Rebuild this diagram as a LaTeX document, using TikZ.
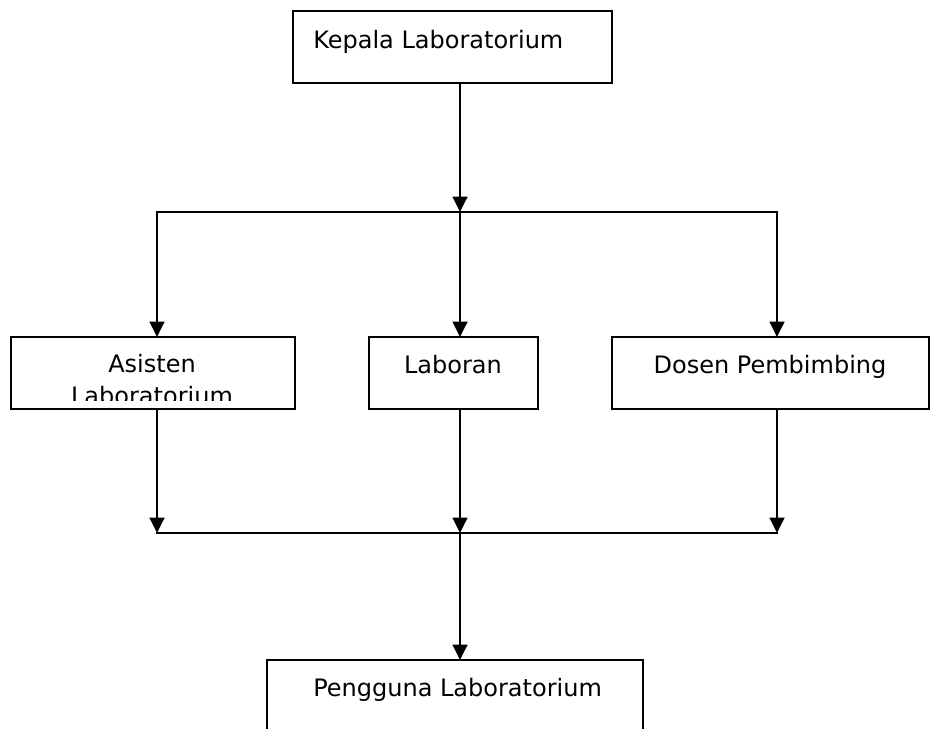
\documentclass[tikz,border=0pt]{standalone}
\usepackage{fontspec}
\setmainfont{DejaVu Sans}
\usetikzlibrary{arrows.meta,calc}
\begin{document}
\begin{tikzpicture}[x=0.75pt,y=-0.75pt,
  box/.style={draw,line width=1.8pt,inner sep=0pt,outer sep=0pt,minimum height=72*0.75pt},
  lbl/.style={inner sep=0pt,font=\fontsize{18pt}{24pt}\selectfont},
  conn/.style={line width=1.8pt,line cap=rect},
  arr/.style={line width=1.8pt,-{Triangle[width=11pt,length=11.5pt]}}]
\useasboundingbox (0,0) rectangle (931,728);
\clip (0,0) rectangle (931,728);
% boxes
\node[box,minimum width=319*0.75pt] (kep) at (452.5,47) {};
\node[box,minimum width=284*0.75pt] (asis) at (153,373) {};
\node[box,minimum width=169*0.75pt] (lab) at (453.5,373) {};
\node[box,minimum width=317*0.75pt] (dos) at (770.5,373) {};
\node[box,minimum width=376*0.75pt] (pen) at (455,696) {};
% labels
\node[lbl,anchor=base west] (tkep) at (313,48) {Kepala Laboratorium};
\node[lbl,anchor=base] (tasis) at (152,372) {Asisten};
\begin{scope}
\clip (11,337) rectangle (295,400);
\node[lbl,anchor=base] (tasis2) at (152,404) {Laboratorium};
\end{scope}
\node[lbl,anchor=base] (tlab) at (453,373) {Laboran};
\node[lbl,anchor=base] (tdos) at (770,373) {Dosen Pembimbing};
\node[lbl,anchor=base west] (tpen) at (313,696) {Pengguna Laboratorium};
% junctions
\coordinate (j1) at (460,212);
\coordinate (hl) at (157,212);
\coordinate (hr) at (777,212);
\coordinate (b1) at (157,533);
\coordinate (b2) at (460,533);
\coordinate (b3) at (777,533);
% connectors
\draw[arr] (kep.south -| j1) -- (j1);
\draw[conn] (hl) -- (hr);
\draw[arr] (hl) -- (hl |- asis.north);
\draw[arr] (j1) -- (j1 |- lab.north);
\draw[arr] (hr) -- (hr |- dos.north);
\draw[arr] (asis.south -| b1) -- (b1);
\draw[arr] (lab.south -| b2) -- (b2);
\draw[arr] (dos.south -| b3) -- (b3);
\draw[conn] (b1) -- (b3);
\draw[arr] (b2) -- (pen.north -| b2);
\end{tikzpicture}
\end{document}
